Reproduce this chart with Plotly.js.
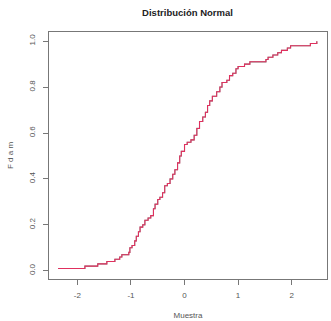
<!DOCTYPE html>
<html>
<head>
<meta charset="utf-8">
<script src="https://cdn.plot.ly/plotly-3.0.1.min.js"></script>
<style>
  html, body { margin: 0; padding: 0; background: #fff; }
  #chart { width: 331px; height: 321px; }
</style>
</head>
<body>
<div id="chart"></div>
<script>
// Sorted sample values (jump points of the empirical CDF)
const muestra = [
  -2.36, -1.86, -1.62, -1.45, -1.30, -1.21, -1.17, -1.04, -1.02, -0.98,
  -0.93, -0.90, -0.86, -0.83, -0.78, -0.74, -0.68, -0.63, -0.58, -0.55,
  -0.50, -0.46, -0.41, -0.37, -0.32, -0.27, -0.22, -0.18, -0.13, -0.09,
  -0.06, 0.00, 0.05, 0.12, 0.18, 0.23, 0.28, 0.34, 0.39, 0.43,
  0.47, 0.52, 0.60, 0.66, 0.70, 0.79, 0.84, 0.90, 0.96, 1.00,
  1.12, 1.22, 1.52, 1.56, 1.65, 1.74, 1.81, 1.92, 1.98, 2.35, 2.47
];
// Cumulative proportion reached at each jump
const fdam = [
  0.01, 0.02, 0.03, 0.04, 0.05, 0.06, 0.07, 0.08, 0.10, 0.11,
  0.13, 0.15, 0.17, 0.19, 0.20, 0.22, 0.23, 0.24, 0.27, 0.29,
  0.31, 0.32, 0.34, 0.37, 0.38, 0.40, 0.42, 0.44, 0.47, 0.50,
  0.52, 0.55, 0.56, 0.57, 0.59, 0.62, 0.65, 0.67, 0.69, 0.72,
  0.74, 0.76, 0.78, 0.80, 0.82, 0.83, 0.85, 0.86, 0.88, 0.89,
  0.90, 0.91, 0.92, 0.93, 0.94, 0.95, 0.96, 0.97, 0.98, 0.99, 1.00
];
const xTicks = [-2, -1, 0, 1, 2];
const yTicks = [0, 0.2, 0.4, 0.6, 0.8, 1.0];
const yTickText = ['0.0', '0.2', '0.4', '0.6', '0.8', '1.0'];

const tickFont = { family: 'Liberation Sans, Arial, sans-serif', size: 8, color: '#555' };

const traces = [
  {
    x: muestra, y: fdam, type: 'scatter', mode: 'lines',
    line: { shape: 'hv', color: '#888', width: 1.1 },
    hoverinfo: 'skip', showlegend: false
  },
  {
    x: muestra, y: fdam, type: 'scatter', mode: 'lines',
    line: { shape: 'hv', color: '#e0305e', width: 1.05 },
    showlegend: false
  }
];

const layout = {
  width: 331, height: 321,
  margin: { l: 49, r: 4, t: 32, b: 42 },
  paper_bgcolor: '#fff', plot_bgcolor: '#fff',
  title: {
    text: '<b>Distribución Normal</b>',
    font: { family: 'Liberation Sans, Arial, sans-serif', size: 9.5, color: '#222' },
    x: 0.5665, xanchor: 'center', y: 0.96, yanchor: 'middle'
  },
  xaxis: {
    range: [-2.53, 2.66],
    tickmode: 'array', tickvals: xTicks, ticktext: xTicks.map(String),
    ticks: 'outside', ticklen: 5, tickcolor: '#777', tickwidth: 1,
    ticklabelstandoff: 3,
    showline: true, linecolor: '#777', linewidth: 1, mirror: true,
    showgrid: false, zeroline: false,
    tickfont: tickFont,
    title: { text: 'Muestra', font: tickFont, standoff: 13 }
  },
  yaxis: {
    range: [-0.036, 1.04],
    tickmode: 'array', tickvals: yTicks, ticktext: yTickText,
    tickangle: -90,
    ticks: 'outside', ticklen: 5, tickcolor: '#777', tickwidth: 1,
    ticklabelstandoff: 5,
    showline: true, linecolor: '#777', linewidth: 1, mirror: true,
    showgrid: false, zeroline: false,
    tickfont: tickFont,
    title: { text: 'F d a m', font: tickFont, standoff: 12 }
  }
};

Plotly.newPlot('chart', traces, layout, { displayModeBar: false, staticPlot: true });
</script>
</body>
</html>
